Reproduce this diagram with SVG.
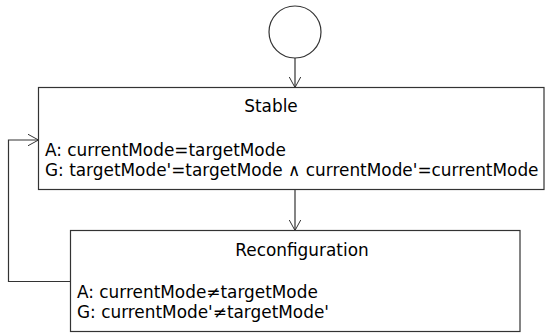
<svg xmlns="http://www.w3.org/2000/svg" width="546" height="333" viewBox="0 0 546 333">
<defs>
<marker id="arr" viewBox="0 0 12 12" refX="11" refY="6" markerWidth="12" markerHeight="12" markerUnits="userSpaceOnUse" orient="auto">
<path d="M0,0 L11,6 L0,12" fill="none" stroke="#333" stroke-width="1"/>
</marker>
<style>
.box{fill:#fff;stroke:#333;stroke-width:1.2}
.t{font-family:"DejaVu Sans",sans-serif;font-size:16.9px;fill:#000}
.c{fill:none;stroke:#333;stroke-width:1.2}
</style>
</defs>
<rect width="546" height="333" fill="#fff"/>
<g id="connectors">
<line class="c" x1="295" y1="58" x2="295" y2="87.5" marker-end="url(#arr)"/>
<line class="c" x1="295" y1="189.5" x2="295" y2="230.5" marker-end="url(#arr)"/>
<polyline class="c" points="70.5,281.5 8.5,281.5 8.5,140 38.5,140" marker-end="url(#arr)"/>
</g>
<g id="initial">
<circle cx="295" cy="32" r="26" fill="#fff" stroke="#333" stroke-width="1.2"/>
</g>
<g id="stable">
<rect class="box" x="38.5" y="87.5" width="505.5" height="102"/>
<text class="t" x="271" y="112" text-anchor="middle">Stable</text>
<text class="t" x="45" y="156">A: currentMode=targetMode</text>
<text class="t" x="45" y="176">G: targetMode'=targetMode ∧ currentMode'=currentMode</text>
</g>
<g id="reconfiguration">
<rect class="box" x="70.5" y="230.5" width="449.5" height="101"/>
<text class="t" x="302" y="256" text-anchor="middle">Reconfiguration</text>
<text class="t" x="77" y="298">A: currentMode≠targetMode</text>
<text class="t" x="77" y="318">G: currentMode'≠targetMode'</text>
</g>
</svg>
